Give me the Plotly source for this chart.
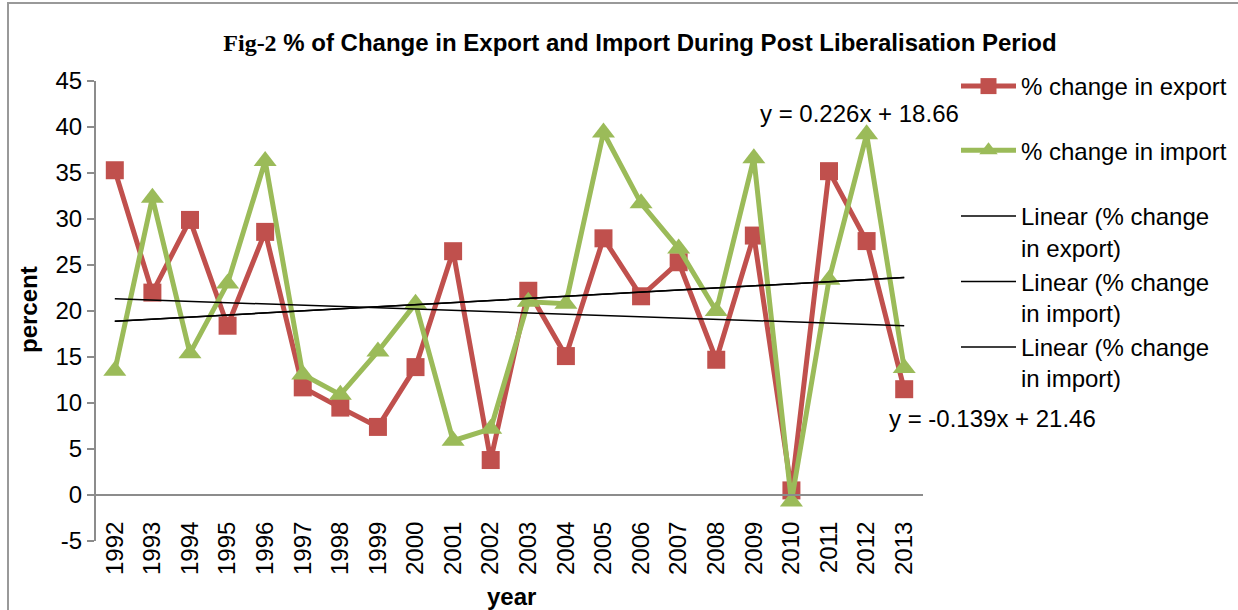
import plotly.graph_objects as go

years = [str(y) for y in range(1992, 2014)]
export_pct = [35.3, 22.0, 29.9, 18.4, 28.6, 11.7, 9.5, 7.4, 13.9, 26.5, 3.8,
              22.2, 15.1, 27.9, 21.6, 25.3, 14.7, 28.2, 0.5, 35.2, 27.6, 11.5]
import_pct = [13.5, 32.3, 15.4, 23.0, 36.3, 13.1, 10.9, 15.6, 20.8, 5.9, 7.2,
              21.0, 20.8, 39.4, 31.7, 26.8, 20.0, 36.6, -0.7, 23.4, 39.2, 13.8]
# trend equations as printed on the chart (x = 1..22)
export_trend = (-0.139, 21.46)
import_trend = (0.226, 18.66)
trend_labels = ["y = 0.226x + 18.66", "y = -0.139x + 21.46"]
y_ticks = [-5, 0, 5, 10, 15, 20, 25, 30, 35, 40, 45]

RED = "#C0504D"
GREEN = "#9BBB59"
GRAY = "#8c8c8c"
FONT = "Liberation Sans, Arial, sans-serif"
FS = 24

# plot area in pixels
L, R, T, B = 96, 923, 81, 541
W, H = 1238, 610
def px(x):
    return (x - L) / (R - L)
def py(y):
    return (B - y) / (B - T)

xi = list(range(1, len(years) + 1))
exp_line = [export_trend[0] * i + export_trend[1] for i in xi]
imp_line = [import_trend[0] * i + import_trend[1] for i in xi]

fig = go.Figure()
fig.add_trace(go.Scatter(x=years, y=export_pct, name="% change in export",
                         mode="lines+markers", line=dict(color=RED, width=5),
                         marker=dict(symbol="square", size=18, color=RED),
                         legend="legend", legendgroup="a"))
fig.add_trace(go.Scatter(x=years, y=import_pct, name="% change in import",
                         mode="lines+markers", line=dict(color=GREEN, width=5),
                         marker=dict(symbol="triangle-up", size=20, color=GREEN),
                         legend="legend", legendgroup="b"))
fig.add_trace(go.Scatter(x=years, y=exp_line, name="Linear (% change<br>in export)",
                         mode="lines", line=dict(color="black", width=1.5),
                         legend="legend2", legendgroup="c"))
fig.add_trace(go.Scatter(x=years, y=imp_line, name="Linear (% change<br>in import)",
                         mode="lines", line=dict(color="black", width=1.5),
                         legend="legend2", legendgroup="d"))
fig.add_trace(go.Scatter(x=years, y=imp_line, name="Linear (% change<br>in import)",
                         mode="lines", line=dict(color="black", width=1.5),
                         legend="legend2", legendgroup="e"))

fig.update_layout(
    width=W, height=H,
    margin=dict(l=L, r=W - R, t=T, b=H - B, autoexpand=False),
    paper_bgcolor="white", plot_bgcolor="white",
    font=dict(family=FONT, size=FS, color="black"),
    title=dict(text="<span style=\"font-family:'Liberation Serif', 'Times New Roman', serif\">Fig-2</span> % of Change in Export and Import During Post Liberalisation Period",
               x=640 / W, xanchor="center", y=1 - 43 / H, yanchor="middle",
               font=dict(family=FONT, size=24, color="black", weight="bold")),
    showlegend=True,
    legend=dict(x=px(956), xanchor="left", y=py(64), yanchor="top",
                tracegroupgap=30, font=dict(size=FS), bgcolor="rgba(0,0,0,0)",
                itemwidth=55),
    legend2=dict(x=px(956), xanchor="left", y=py(194), yanchor="top",
                 tracegroupgap=0, font=dict(size=FS), valign="top",
                 bgcolor="rgba(0,0,0,0)", itemwidth=55),
    xaxis=dict(type="category", range=[-0.5, len(years) - 0.5],
               anchor="free", position=py(495), showline=True, linecolor=GRAY,
               linewidth=2, ticks="", tickangle=-90, ticklabelstandoff=16,
               showgrid=False, zeroline=False, tickfont=dict(size=FS),
               automargin=False),
    yaxis=dict(range=[-5, 45], tickvals=y_ticks, ticktext=[str(v) for v in y_ticks],
               showline=True, linecolor=GRAY, linewidth=2,
               ticks="outside", ticklen=7, tickcolor=GRAY, tickwidth=2,
               showgrid=False, zeroline=False, tickfont=dict(size=FS),
               automargin=False),
    annotations=[
        dict(text="<b>percent</b>", xref="paper", yref="paper", x=px(28), y=py(310),
             xanchor="center", yanchor="middle",
             textangle=-90, showarrow=False, font=dict(size=FS)),
        dict(text="<b>year</b>", xref="paper", yref="paper", x=px(511), y=py(596),
             xanchor="center", yanchor="middle", showarrow=False, font=dict(size=FS)),
        dict(text=trend_labels[0], xref="paper", yref="paper", x=px(859), y=py(113),
             xanchor="center", yanchor="middle", showarrow=False, font=dict(size=FS)),
        dict(text=trend_labels[1], xref="paper", yref="paper", x=px(992), y=py(418),
             xanchor="center", yanchor="middle", showarrow=False, font=dict(size=FS)),
    ],
    shapes=[dict(type="rect", xref="paper", yref="paper",
                 x0=px(8), x1=px(1260), y0=py(630), y1=py(3),
                 line=dict(color="#999999", width=2), fillcolor="rgba(0,0,0,0)",
                 layer="below")],
)

fig.write_html("out.html", config={"displayModeBar": False},
               post_script="document.body.style.margin='0';document.body.style.overflow='hidden';")
